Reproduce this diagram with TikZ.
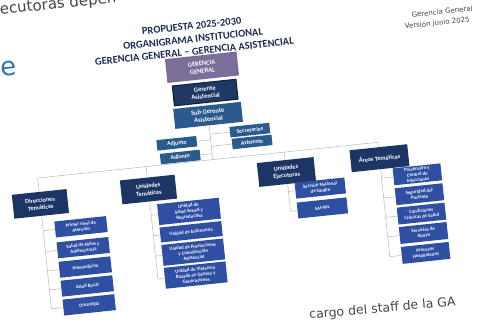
\documentclass[tikz,border=0pt]{standalone}
\usepackage{fontspec}
\setmainfont{Carlito}
\newfontfamily\slidefont{DejaVu Sans}
\definecolor{ggpurple}{HTML}{7B6E98}
\definecolor{navy}{HTML}{1F3864}
\definecolor{navyline}{HTML}{0E1E3C}
\definecolor{steel}{HTML}{2B5A8C}
\definecolor{royal}{HTML}{2F4FA2}
\definecolor{headnavy}{HTML}{1C3564}
\definecolor{titlenavy}{HTML}{1E2A55}
\definecolor{linegray}{HTML}{B8B8B8}
\definecolor{textgray}{HTML}{454545}
\definecolor{eblue}{HTML}{2E74B5}
\begin{document}
\begin{tikzpicture}[x=1pt, y=-1pt,
    box/.style={rectangle, inner sep=0.5pt, align=center, text=white},
    ttl/.style={text=titlenavy, inner sep=0pt, font=\fontsize{10.5}{11}\selectfont\bfseries},
    topbox/.style={box, minimum width=66pt, minimum height=20pt, font=\fontsize{6.5}{7.6}\selectfont\bfseries},
    staffbox/.style={box, fill=steel, minimum width=40pt, minimum height=10.5pt, font=\fontsize{5.8}{6.5}\selectfont\bfseries},
    headbox/.style={box, fill=headnavy, minimum width=55pt, minimum height=24pt, font=\fontsize{6.2}{7.4}\selectfont\bfseries},
    kid/.style={box, fill=royal, font=\fontsize{4.8}{5.6}\selectfont\bfseries},
    link/.style={draw=linegray, line width=0.5pt}]
    \useasboundingbox (0,0) rectangle (477,322);
    \clip (0,0) rectangle (477,322);

    \node[rotate=6, anchor=base west, inner sep=0pt, text=textgray, font=\slidefont\fontsize{15}{15}\selectfont] (bg1) at (-4,15) {jecutoras depen};
    \node[rotate=6, anchor=base west, inner sep=0pt, text=eblue, font=\slidefont\fontsize{26}{26}\selectfont] (bg2) at (1.5,77) {e};
    \node[rotate=6, anchor=base east, inner sep=0pt, text=textgray, font=\slidefont\fontsize{7}{7}\selectfont] (bg3) at (473,11) {Gerencia General};
    \node[rotate=6, anchor=base east, inner sep=0pt, text=textgray, font=\slidefont\fontsize{7}{7}\selectfont] (bg4) at (470,22) {Versión junio 2025};
    \node[rotate=5, anchor=base east, inner sep=0pt, text=textgray, font=\slidefont\fontsize{12.5}{12.5}\selectfont] (bg5) at (456,306) {cargo del staff de la GA};

    \begin{scope}[rotate around={6:(238,161)}, transform shape]
        \node[ttl] (t1) at (206,22) {PROPUESTA 2025-2030};
        \node[ttl] (t2) at (206,35) {ORGANIGRAMA INSTITUCIONAL};
        \node[ttl] (t3) at (206,47.5) {GERENCIA GENERAL – GERENCIA ASISTENCIAL};

        \node[topbox, fill=ggpurple, minimum width=72pt, minimum height=24pt] (gg) at (212,64) {GERENCIA\\GENERAL};
        \node[topbox, fill=navy, draw=navyline, line width=1pt, minimum width=64pt] (ga) at (212.5,89.5) {Gerente\\Asistencial};
        \node[topbox, fill=steel, minimum width=68pt] (sg) at (213,112.5) {Sub Gerente\\Asistencial};
        \draw[link] (gg) -- (ga);
        \draw[link] (ga) -- (sg);

        \node[staffbox] (adj1) at (179,137) {Adjunto};
        \node[staffbox] (adj2) at (181,151) {Adjunto};
        \node[staffbox] (sec) at (253,131.5) {Secretarios};
        \node[staffbox] (asi) at (254,143.5) {Asistente};
        \coordinate (bt) at (213,157);
        \coordinate (s1) at (213,137);
        \coordinate (s2) at (213,151);
        \coordinate (s3) at (213,131.5);
        \coordinate (s4) at (213,143.5);
        \draw[link] (sg) -- (bt);
        \draw[link] (adj1) -- (s1);
        \draw[link] (adj2) -- (s2);
        \draw[link] (sec) -- (s3);
        \draw[link] (asi) -- (s4);

        \node[headbox] (dt) at (37,183) {Direcciones\\Temáticas};
        \node[headbox] (ut) at (146,180) {Unidades\\Temáticas};
        \node[headbox, minimum width=57pt] (ue) at (285,177) {Unidades\\Ejecutoras};
        \node[headbox, minimum width=58pt, minimum height=22pt] (at) at (379,173) {Áreas Temáticas};
        \coordinate (bl) at (37,157);
        \coordinate (bu) at (146,157);
        \coordinate (be) at (285,157);
        \coordinate (br) at (379,157);
        \draw[link] (bl) -- (br);
        \draw[link] (dt) -- (bl);
        \draw[link] (ut) -- (bu);
        \draw[link] (ue) -- (be);
        \draw[link] (at) -- (br);

        \foreach \n/\y/\t in {1/210/{Primer nivel de\\Atención}, 2/231/{Salud de Niños y\\Adolescencia}, 3/250.5/Telemedicina, 4/269.5/Salud Bucal, 5/288.5/Oncología} {
            \node[kid, minimum width=52pt, minimum height=16pt] (dt\n) at (75,\y) {\t};
            \coordinate (dtk\n) at (37,\y);
            \draw[link] (dtk\n) -- (dt\n);
        }
        \draw[link] (dt) -- (dtk5);

        \foreach \n/\y/\h/\t in {1/206/21/{Unidad de\\Salud Sexual y\\Reproductiva}, 2/226.5/15/{Unidad de Enfermería}, 3/247/21/{Unidad de Prestaciones\\y Coordinación\\Asistencial}, 4/270/21/{Unidad de Violencia\\Basada en Género y\\Generaciones}} {
            \node[kid, minimum width=62pt, minimum height=\h pt] (ut\n) at (184,\y) {\t};
            \coordinate (utk\n) at (146,\y);
            \draw[link] (utk\n) -- (ut\n);
        }
        \draw[link] (ut) -- (utk4);

        \foreach \n/\y/\t in {1/196.5/{Servicio Nacional\\de Sangre}, 2/216.5/SAI-PPL} {
            \node[kid, minimum width=50pt, minimum height=16pt] (ue\n) at (317,\y) {\t};
            \coordinate (uek\n) at (285,\y);
            \draw[link] (uek\n) -- (ue\n);
        }
        \draw[link] (ue) -- (uek2);

        \foreach \n/\y/\t in {1/193/{Prevención y\\Control de\\Infecciones}, 2/213/{Seguridad del\\Paciente}, 3/232.5/{Condiciones\\Crónicas de Salud}, 4/252/{Servicios de\\Apoyo}, 5/272/{Procesos\\Hospitalarios}} {
            \node[kid, minimum width=48pt, minimum height=17pt] (at\n) at (415,\y) {\t};
            \coordinate (atk\n) at (379,\y);
            \draw[link] (atk\n) -- (at\n);
        }
        \draw[link] (at) -- (atk5);
    \end{scope}
\end{tikzpicture}
\end{document}
